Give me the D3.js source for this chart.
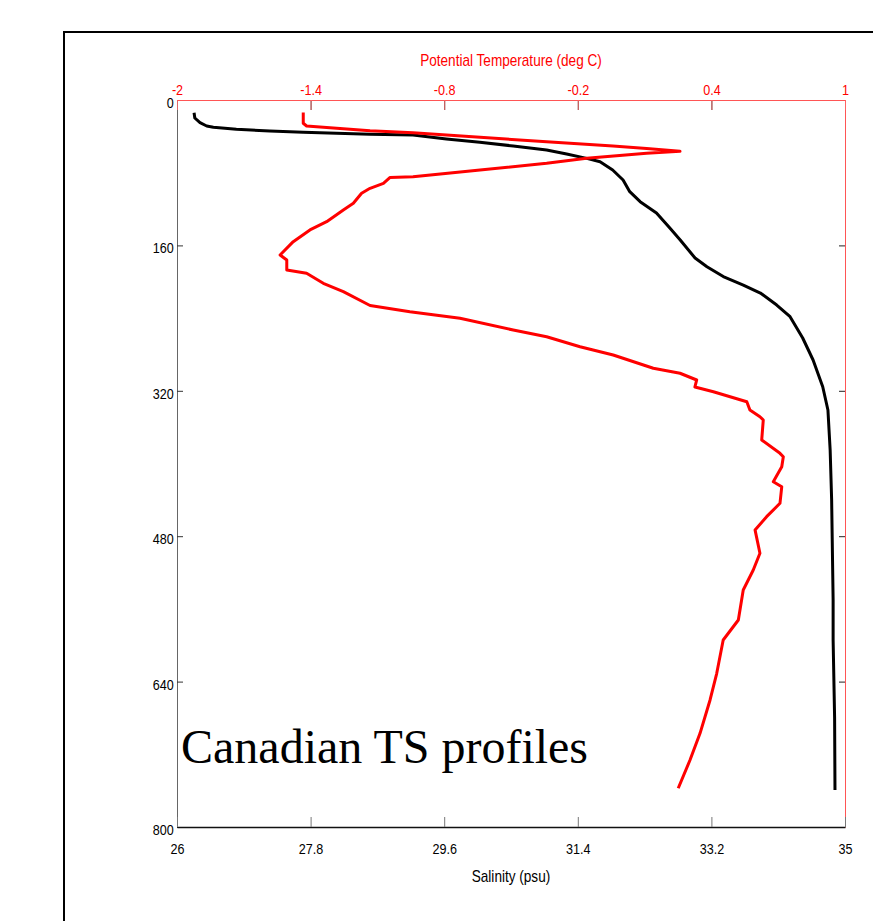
<!DOCTYPE html>
<html>
<head>
<meta charset="utf-8">
<script src="https://cdn.jsdelivr.net/npm/d3@7"></script>
<style>
  body { margin: 0; background: #fff; }
</style>
</head>
<body>
<div id="myPlot"></div>
<script>
const depthTicks = [0, 160, 320, 480, 640, 800]
const salinityTicks = [26, 27.8, 29.6, 31.4, 33.2, 35]
const temperatureTicks = [-2, -1.4, -0.8, -0.2, 0.4, 1]

// [salinity (psu), depth]
const salinityProfile = [
    [26.23, 14.0], [26.24, 19.8], [26.31, 25.0], [26.40, 28.6], [26.49, 30.0],
    [26.80, 32.2], [27.25, 34.1], [27.70, 35.5], [28.15, 36.6], [28.60, 37.7],
    [29.18, 38.5], [29.63, 42.9], [30.08, 46.5], [30.53, 50.6], [30.98, 55.0],
    [31.25, 59.4], [31.52, 64.2], [31.70, 67.9], [31.87, 77.0], [32.01, 88.0],
    [32.10, 100.9], [32.24, 111.9], [32.46, 124.3], [32.64, 140.9], [32.78, 154.1],
    [32.98, 173.9], [33.14, 183.4], [33.36, 194.3], [33.63, 203.6], [33.86, 212.4],
    [34.08, 225.6], [34.26, 238.5], [34.43, 261.9], [34.57, 286.1], [34.70, 315.5],
    [34.77, 341.1], [34.80, 385.1], [34.82, 440.2], [34.84, 550.2], [34.84, 594.2],
    [34.86, 680.0], [34.865, 759.3]
]

// [potential temperature (deg C), depth]
const temperatureProfile = [
    [-1.433, 13.8], [-1.433, 25.6], [-1.418, 28.6], [-1.283, 31.1], [-1.133, 33.8],
    [-0.940, 36.0], [-0.639, 41.0], [-0.340, 45.9], [-0.042, 50.6], [0.109, 53.4],
    [0.259, 56.5], [0.109, 58.7], [-0.160, 64.2], [-0.340, 69.7], [-0.639, 77.0],
    [-0.940, 84.4], [-1.043, 85.2], [-1.073, 91.7], [-1.133, 97.2], [-1.171, 102.7],
    [-1.208, 113.7], [-1.253, 121.0], [-1.328, 133.9], [-1.403, 143.0], [-1.478, 155.9],
    [-1.537, 170.5], [-1.507, 176.1], [-1.507, 187.1], [-1.418, 190.7], [-1.343, 201.7],
    [-1.253, 210.9], [-1.133, 226.1], [-0.954, 233.0], [-0.729, 240.2], [-0.490, 253.1],
    [-0.340, 260.5], [-0.190, 271.5], [-0.041, 280.6], [0.139, 295.2], [0.259, 300.7],
    [0.334, 308.1], [0.326, 315.8], [0.409, 321.0], [0.559, 332.0], [0.573, 341.1],
    [0.618, 348.5], [0.633, 352.1], [0.626, 374.1], [0.708, 388.8], [0.723, 392.5],
    [0.716, 403.5], [0.678, 420.0], [0.716, 425.5], [0.708, 443.8], [0.648, 458.5],
    [0.596, 473.1], [0.618, 498.8], [0.588, 517.2], [0.543, 539.2], [0.521, 572.2],
    [0.453, 594.2], [0.424, 630.9], [0.394, 660.2], [0.349, 696.9], [0.304, 726.3],
    [0.251, 757.4]
]

const clientWidth = 873
const clientHeight = 921
const margin = {top: 100, right: 28, bottom: 94, left: 177}
const width = clientWidth - margin.left - margin.right
const height = clientHeight - margin.top - margin.bottom
const labelFont = "'Liberation Sans', Arial, sans-serif"
const narrow = "scale(0.84, 1)"

const root = d3.select("#myPlot").append("svg")
    .attr("width", clientWidth)
    .attr("height", clientHeight)

root.append("rect")
    .attr("width", clientWidth)
    .attr("height", clientHeight)
    .attr("fill", "#fff")

// figure frame
root.append("rect")
    .attr("x", 64)
    .attr("y", 32)
    .attr("width", 900)
    .attr("height", 1000)
    .attr("fill", "none")
    .attr("stroke", "#000")
    .attr("stroke-width", 2)

const svg = root.append("g")
    .attr("transform", `translate(${margin.left}, ${margin.top})`)

const xSal = d3.scaleLinear().domain([26, 35]).range([0, width])
const xTemp = d3.scaleLinear().domain([-2, 1]).range([0, width])
const yDepth = d3.scaleLinear().domain([0, 800]).range([0, height])

const fmt = d => String(d)

const styleLabels = (g, color) => g.selectAll(".tick text")
    .attr("fill", color)
    .attr("font-size", 15)
    .attr("font-family", labelFont)
    .attr("transform", narrow)

// mirrored ticks (box) for salinity/depth axes
svg.append("g")
    .call(d3.axisTop(xSal).tickValues(salinityTicks).tickSize(-10).tickSizeOuter(0).tickFormat(""))
    .call(g => g.select(".domain").remove())
    .call(g => g.selectAll(".tick line").attr("stroke", "#333"))

svg.append("g")
    .attr("transform", `translate(${width}, 0)`)
    .call(d3.axisRight(yDepth).tickValues(depthTicks).tickSize(-6).tickSizeOuter(0).tickFormat(""))
    .call(g => g.select(".domain").attr("stroke", "#f55").attr("stroke-width", 1))
    .call(g => g.selectAll(".tick line").attr("stroke", "#222"))

// left depth axis
svg.append("g")
    .call(d3.axisLeft(yDepth).tickValues(depthTicks).tickSize(-6).tickSizeOuter(0).tickPadding(4).tickFormat(fmt))
    .call(g => g.select(".domain").attr("stroke", "#666").attr("stroke-width", 1))
    .call(g => g.selectAll(".tick line").attr("stroke", "#333"))
    .call(g => styleLabels(g, "#000").attr("dy", "0.5em"))

// bottom salinity axis
svg.append("g")
    .attr("transform", `translate(0, ${height})`)
    .call(d3.axisBottom(xSal).tickValues(salinityTicks).tickSize(-10).tickSizeOuter(0).tickPadding(16).tickFormat(fmt))
    .call(g => g.select(".domain").attr("stroke", "#111").attr("stroke-width", 1.5))
    .call(g => g.selectAll(".tick line").attr("stroke", "#777"))
    .call(g => styleLabels(g, "#000"))

// top temperature axis
svg.append("g")
    .call(d3.axisTop(xTemp).tickValues(temperatureTicks).tickSize(-10).tickSizeOuter(0).tickPadding(5).tickFormat(fmt))
    .call(g => g.select(".domain").attr("stroke", "#f55").attr("stroke-width", 1.2))
    .call(g => g.selectAll(".tick line").attr("stroke", "#f66").attr("stroke-opacity", 0.8))
    .call(g => styleLabels(g, "#f00"))

svg.append("text")
    .attr("transform", `translate(${width / 2}, -34) scale(0.85, 1)`)
    .attr("text-anchor", "middle")
    .attr("fill", "#f00")
    .attr("font-size", 16)
    .attr("font-family", labelFont)
    .text("Potential Temperature (deg C)")

svg.append("text")
    .attr("transform", `translate(${width / 2}, ${height + 55}) scale(0.85, 1)`)
    .attr("text-anchor", "middle")
    .attr("fill", "#000")
    .attr("font-size", 16)
    .attr("font-family", labelFont)
    .text("Salinity (psu)")

const salinityLine = d3.line()
    .x(record => xSal(record[0]))
    .y(record => yDepth(record[1]))

const temperatureLine = d3.line()
    .x(record => xTemp(record[0]))
    .y(record => yDepth(record[1]))

svg.append("path")
    .datum(salinityProfile)
    .attr("d", salinityLine)
    .attr("fill", "none")
    .attr("stroke", "#000")
    .attr("stroke-width", 3)
    .attr("stroke-linejoin", "round")

svg.append("path")
    .datum(temperatureProfile)
    .attr("d", temperatureLine)
    .attr("fill", "none")
    .attr("stroke", "#f00")
    .attr("stroke-width", 3)
    .attr("stroke-linejoin", "round")

svg.append("text")
    .attr("x", 4)
    .attr("y", 663)
    .attr("fill", "#000")
    .attr("font-size", 48)
    .attr("font-family", "'Liberation Serif', 'Times New Roman', serif")
    .text("Canadian TS profiles")
</script>
</body>
</html>
